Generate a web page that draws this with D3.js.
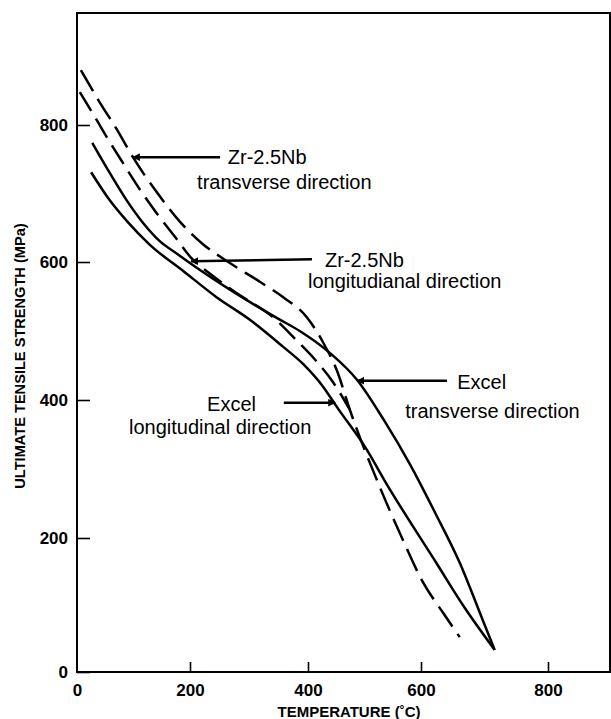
<!DOCTYPE html>
<html>
<head>
<meta charset="utf-8">
<script src="https://cdn.jsdelivr.net/npm/d3@7"></script>
<style>
  body { margin: 0; background: #fff; }
  text { font-family: "Liberation Sans", Arial, sans-serif; fill: #000; }
</style>
</head>
<body>
<script>
// tick values of the scanned figure
const xTicks = [0, 200, 400, 600, 800];
const yTicks = [0, 200, 400, 600, 800];

// temperature (C) / ultimate tensile strength (MPa)
const zrTransT = [7, 41, 71, 99, 142, 182, 222, 263, 319, 358, 398, 427, 451, 474, 527, 568, 603, 635, 661];
const zrTransS = [880, 832, 793, 753, 701, 659, 626, 601, 571, 549, 520, 483, 443, 386, 274, 197, 134, 88, 52];

const zrLongT = [5, 35, 53, 81, 112, 142, 177, 202, 234, 272, 346, 380, 413, 445, 474];
const zrLongS = [848, 807, 782, 745, 705, 670, 633, 606, 583, 559, 516, 487, 458, 425, 386];

const exTransT = [27, 58, 88, 117, 147, 177, 204, 273, 347, 386, 439, 487, 535, 581, 622, 661, 697, 716];
const exTransS = [774, 730, 690, 657, 630, 612, 596, 557, 519, 500, 468, 429, 370, 306, 237, 163, 78, 33];

const exLongT = [25, 58, 88, 129, 188, 245, 302, 358, 392, 427, 451, 504, 535, 624, 668, 716];
const exLongS = [731, 690, 660, 625, 587, 549, 516, 477, 452, 419, 390, 328, 284, 163, 97, 33];

// labels: [text lines], arrow tip / tail and text anchors in data units
const notes = [
  {lines: ["Zr-2.5Nb", "transverse direction"], tip: [99, 753], tail: [251, 753],
   pos: [[264, 743], [212, 707]]},
  {lines: ["Zr-2.5Nb", "longitudianal direction"], tip: [202, 601], tail: [407, 604],
   pos: [[430, 593], [400, 562]]},
  {lines: ["Excel", "transverse direction"], tip: [487, 428], tail: [641, 428],
   pos: [[657, 416], [572, 374]]},
  {lines: ["Excel", "longitudinal direction"], tip: [448, 396], tail: [359, 396],
   pos: [[229, 384], [92, 351]]}
];

const series = [
  {t: zrTransT, s: zrTransS, dash: "24,9"},
  {t: zrLongT, s: zrLongS, dash: "22,9"},
  {t: exTransT, s: exTransS, dash: null},
  {t: exLongT, s: exLongS, dash: null}
];

const W = 611, H = 719;
const mLeft = 77, mTop = 13, mRight = 610, mBottom = 672;

// the scan is not quite uniform, so calibrate the scales on every tick
const x = d3.scaleLinear().domain(xTicks).range([77, 190, 308, 421, 548]);
const y = d3.scaleLinear().domain(yTicks).range([672, 538, 400, 262, 125]);

const svg = d3.select("body").append("svg")
    .attr("width", W).attr("height", H);

svg.append("rect").attr("width", W).attr("height", H).attr("fill", "#fff");

const defs = svg.append("defs");
defs.append("marker")
    .attr("id", "head")
    .attr("viewBox", "0 0 10 10")
    .attr("refX", 9).attr("refY", 5)
    .attr("markerWidth", 3.2).attr("markerHeight", 3.2)
    .attr("orient", "auto-start-reverse")
    .append("path")
    .attr("d", "M0,0L10,5L0,10z")
    .attr("fill", "#000");

// axes
const xAxis = d3.axisBottom(x).tickValues(xTicks).tickSize(-10).tickPadding(12).tickSizeOuter(0);
const yAxis = d3.axisLeft(y).tickValues(yTicks).tickSize(-13).tickPadding(9).tickSizeOuter(0);

const gx = svg.append("g").attr("transform", `translate(0,${mBottom})`).call(xAxis);
const gy = svg.append("g").attr("transform", `translate(${mLeft},0)`).call(yAxis);
[gx, gy].forEach(g => {
  g.select(".domain").remove();
  g.selectAll(".tick line").attr("stroke", "#000").attr("stroke-width", 1.6);
  g.selectAll(".tick text")
      .style("font-family", '"Liberation Sans", Arial, sans-serif')
      .style("font-size", "17px")
      .style("font-weight", "bold")
      .attr("fill", "#000");
});
gx.selectAll(".tick").filter(d => d === 0).select("line").remove();

// frame
svg.append("rect")
    .attr("x", mLeft).attr("y", mTop)
    .attr("width", mRight - mLeft).attr("height", mBottom - mTop)
    .attr("fill", "none").attr("stroke", "#000").attr("stroke-width", 2);

// axis titles
svg.append("text")
    .attr("x", 349).attr("y", 717)
    .attr("text-anchor", "middle")
    .style("font-size", "15px").style("font-weight", "bold")
    .text("TEMPERATURE (\u02DAC)");

svg.append("text")
    .attr("transform", "translate(25,356) rotate(-90)")
    .attr("text-anchor", "middle")
    .style("font-size", "14.6px").style("font-weight", "bold")
    .text("ULTIMATE TENSILE STRENGTH (MPa)");

// curves
const line = d3.line()
    .x(d => x(d[0]))
    .y(d => y(d[1]))
    .curve(d3.curveMonotoneX);

svg.append("g").selectAll("path")
  .data(series)
  .enter().append("path")
    .attr("d", d => line(d3.zip(d.t, d.s)))
    .attr("fill", "none")
    .attr("stroke", "#000")
    .attr("stroke-width", 2.5)
    .attr("stroke-dasharray", d => d.dash);

// labels and arrows
const ng = svg.append("g").selectAll("g").data(notes).enter().append("g");
ng.append("line")
    .attr("x1", d => x(d.tail[0])).attr("y1", d => y(d.tail[1]))
    .attr("x2", d => x(d.tip[0])).attr("y2", d => y(d.tip[1]))
    .attr("stroke", "#000").attr("stroke-width", 2.4)
    .attr("marker-end", "url(#head)");
ng.each(function(d) {
  const g = d3.select(this);
  d.lines.forEach((t, i) => {
    g.append("text")
        .attr("x", x(d.pos[i][0])).attr("y", y(d.pos[i][1]))
        .style("font-size", "20px")
        .text(t);
  });
});
</script>
</body>
</html>
